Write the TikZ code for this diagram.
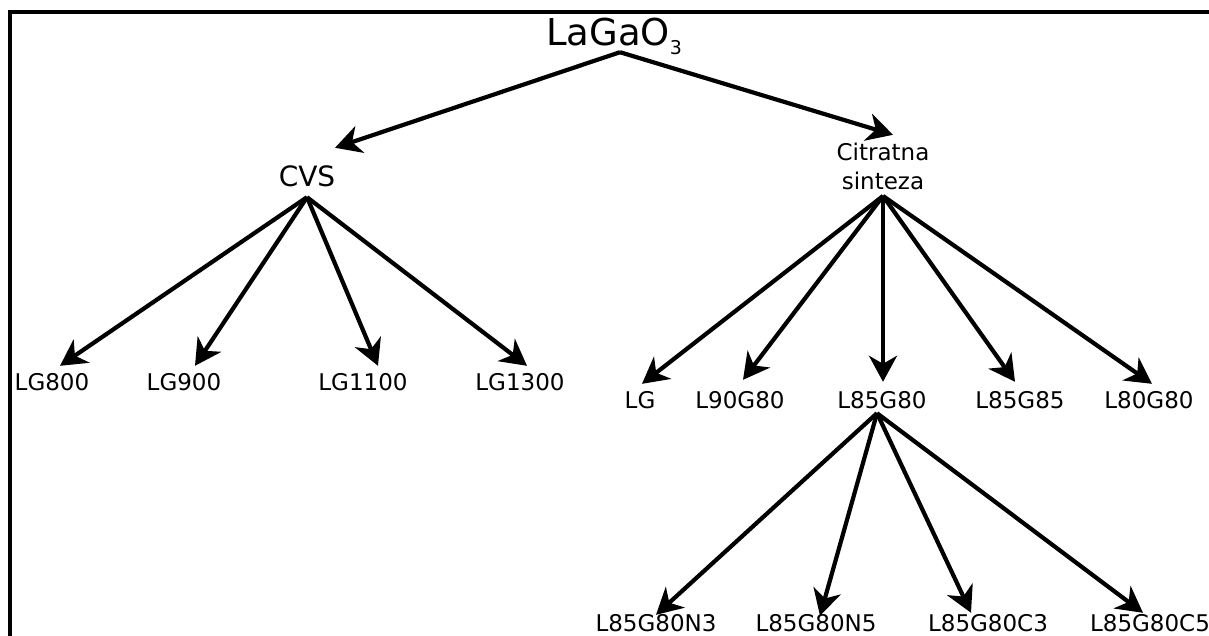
\documentclass[tikz,border=0pt]{standalone}
\usepackage{fontspec}
\setmainfont{DejaVu Sans}
\usetikzlibrary{arrows.meta}

\tikzset{
	arr/.style={line width=4.2pt, -{Stealth[length=26pt,width=28pt,inset=8pt]}},
	leaf/.style={font=\fontsize{23pt}{29pt}\selectfont, inner xsep=0pt, inner ysep=7pt,
		text height=17pt, text depth=0pt, anchor=base},
	grp/.style={font=\fontsize{28pt}{34pt}\selectfont, inner xsep=0pt, inner ysep=11pt,
		text height=20pt, text depth=0pt, anchor=base},
}

\begin{document}
\begin{tikzpicture}[x=1pt, y=-1pt]
			%%%%% START %%%%%
			\useasboundingbox (0,0) rectangle (1209,635);
			
			% frame
			\draw[line width=4pt] (10,640) -- (10,12) -- (1215,12);
			
			% root
			\node[font=\fontsize{37pt}{40pt}\selectfont, inner sep=0pt, inner ysep=7pt, text depth=0pt, anchor=base]
				(top) at (614,45) {LaGaO\raisebox{-9pt}{\fontsize{19pt}{19pt}\selectfont 3}};
			
			% second level
			\node[grp] (cvs) at (307,186) {CVS};
			\node[font=\fontsize{23pt}{29pt}\selectfont, align=center, inner xsep=0pt, inner ysep=6pt, anchor=south]
				(cit) at (883,196) {Citratna\\sinteza};
			
			\draw[arr] ([xshift=6pt]top.south) -- ([xshift=28pt,yshift=7pt]cvs.north);
			\draw[arr] ([xshift=6pt]top.south) -- ([xshift=10pt,yshift=2pt]cit.north);
			
			% CVS samples
			\node[leaf] (lg800) at (52,390) {LG800};
			\node[leaf] (lg900) at (184,390) {LG900};
			\node[leaf] (lg1100) at (363,390) {LG1100};
			\node[leaf] (lg1300) at (520,390) {LG1300};
			
			\draw[arr] (cvs.south) -- ([xshift=8pt]lg800.north);
			\draw[arr] (cvs.south) -- ([xshift=11pt]lg900.north);
			\draw[arr] (cvs.south) -- ([xshift=15pt]lg1100.north);
			\draw[arr] (cvs.south) -- ([xshift=7pt]lg1300.north);
			
			% citratna sinteza samples
			\node[leaf] (lg) at (640,408) {LG};
			\node[leaf] (l90g80) at (740,408) {L90G80};
			\node[leaf] (l85g80) at (882,408) {L85G80};
			\node[leaf] (l85g85) at (1020,408) {L85G85};
			\node[leaf] (l80g80) at (1149,408) {L80G80};
			
			\draw[arr] (cit.south) -- ([xshift=2pt]lg.north);
			\draw[arr] (cit.south) -- ([xshift=3pt,yshift=4pt]l90g80.north);
			\draw[arr] (cit.south) -- ([xshift=1pt,yshift=2pt]l85g80.north);
			\draw[arr] (cit.south) -- ([xshift=-5pt,yshift=2pt]l85g85.north);
			\draw[arr] (cit.south) -- ([xshift=3pt]l80g80.north);
			
			% doped L85G80
			\node[leaf, inner ysep=0pt, text height=20pt] (n3) at (656,631) {L85G80N3};
			\node[leaf, inner ysep=0pt, text height=20pt] (n5) at (816,631) {L85G80N5};
			\node[leaf, inner ysep=0pt, text height=20pt] (c3) at (988,631) {L85G80C3};
			\node[leaf, inner ysep=0pt, text height=20pt] (c5) at (1150,631) {L85G80C5};
			
			\draw[arr] ([xshift=-5pt,yshift=2pt]l85g80.south) -- ([yshift=-4pt]n3.north);
			\draw[arr] ([xshift=-5pt,yshift=2pt]l85g80.south) -- ([xshift=4pt,yshift=-5pt]n5.north);
			\draw[arr] ([xshift=-5pt,yshift=2pt]l85g80.south) -- ([xshift=-17pt,yshift=-2pt]c3.north);
			\draw[arr] ([xshift=-5pt,yshift=2pt]l85g80.south) -- ([xshift=-7pt,yshift=-2pt]c5.north);
			
			%%%%% END %%%%%
\end{tikzpicture}
\end{document}
